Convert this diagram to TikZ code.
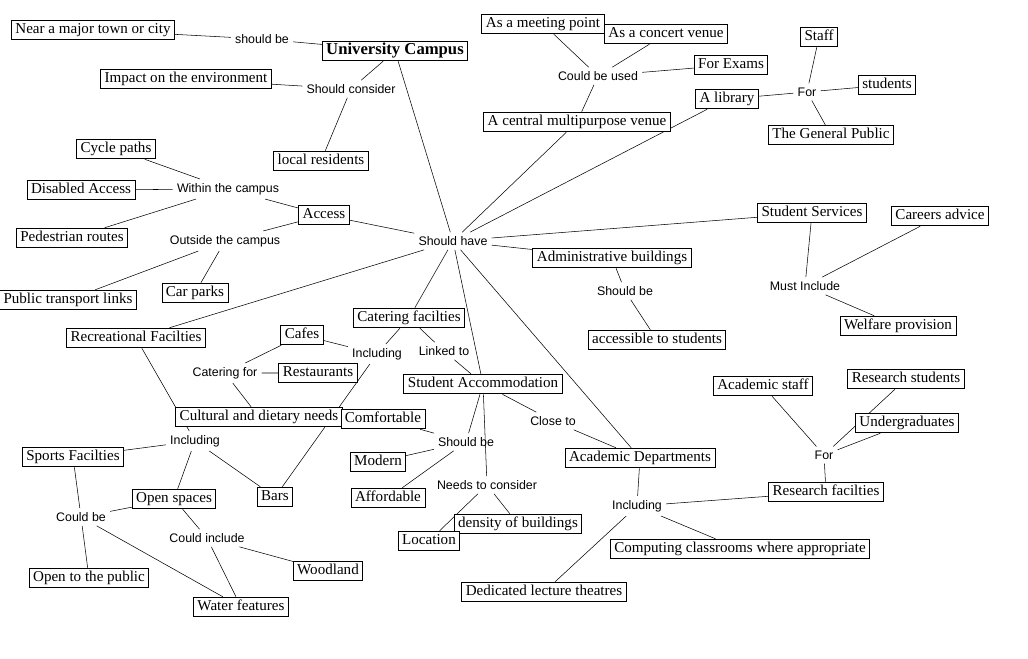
\documentclass[tikz,border=0pt]{standalone}
\usepackage{fontspec}
\setmainfont{Liberation Serif}
\newfontfamily\lblfont{Liberation Sans}
\usetikzlibrary{backgrounds}

\begin{document}
\begin{tikzpicture}[x=0.75pt,y=-0.75pt,
  box/.style={draw,fill=white,line width=0.6pt,inner xsep=3pt,inner ysep=2.6pt,
    text height=0.72em,text depth=0.24em,font=\fontsize{11.3}{13}\selectfont},
  lbl/.style={inner sep=3pt,font=\lblfont\fontsize{9.3}{10}\selectfont},
  link/.style={line width=0.6pt}]
\useasboundingbox (0,0) rectangle (1028,658);
% concepts
\node[box,font=\bfseries\fontsize{12.5}{14}\selectfont] (campus) at (395,51) {University Campus};
\node[box] (near) at (93,30) {Near a major town or city};
\node[box] (impact) at (186,79) {Impact on the environment};
\node[box] (residents) at (321,161) {local residents};
\node[box] (meeting) at (543,24) {As a meeting point};
\node[box] (concert) at (666,34) {As a concert venue};
\node[box] (exams) at (731,65) {For Exams};
\node[box] (venue) at (577,122) {A central multipurpose venue};
\node[box] (library) at (727,99) {A library};
\node[box] (staff) at (819,37) {Staff};
\node[box] (students) at (887,85) {students};
\node[box] (public) at (831,135) {The General Public};
\node[box] (cycle) at (116,149) {Cycle paths};
\node[box] (disabled) at (81,190) {Disabled Access};
\node[box] (pedestrian) at (72,238) {Pedestrian routes};
\node[box] (access) at (324,215) {Access};
\node[box] (transport) at (68,300) {Public transport links};
\node[box] (carparks) at (195,293) {Car parks};
\node[box] (services) at (812,213) {Student Services};
\node[box] (careers) at (940,216) {Careers advice};
\node[box] (admin) at (612,258) {Administrative buildings};
\node[box] (accessible) at (657,340) {accessible to students};
\node[box] (welfare) at (898,326) {Welfare provision};
\node[box] (recreation) at (136,338) {Recreational Facilties};
\node[box] (cafes) at (302,335) {Cafes};
\node[box] (catering) at (409,318) {Catering facilties};
\node[box] (restaurants) at (318,373) {Restaurants};
\node[box] (culture) at (259,417) {Cultural and dietary needs};
\node[box] (comfortable) at (383,419) {Comfortable};
\node[box] (accommodation) at (483,384) {Student Accommodation};
\node[box] (sports) at (73,457) {Sports Facilties};
\node[box] (modern) at (378,462) {Modern};
\node[box] (openspaces) at (174,499) {Open spaces};
\node[box] (bars) at (275,497) {Bars};
\node[box] (affordable) at (388,498) {Affordable};
\node[box] (density) at (518,524) {density of buildings};
\node[box] (location) at (429,541) {Location};   % over density
\node[box] (openpublic) at (89,578) {Open to the public};
\node[box] (woodland) at (328,571) {Woodland};
\node[box] (water) at (241,607) {Water features};
\node[box] (academic) at (640,458) {Academic Departments};
\node[box] (computing) at (740,549) {Computing classrooms where appropriate};
\node[box] (lectures) at (544,592) {Dedicated lecture theatres};
\node[box] (acstaff) at (763,386) {Academic staff};
\node[box] (resstudents) at (906,379) {Research students};
\node[box] (undergrads) at (907,423) {Undergraduates};
\node[box] (resfac) at (826,492) {Research facilties};
% linking words
\node[lbl] (shbe) at (262,39) {should be};
\node[lbl] (shcons) at (351,89) {Should consider};
\node[lbl] (usedas) at (598,76) {Could be used};
\node[lbl] (forlib) at (807,92) {For};
\node[lbl] (within) at (228,189) {Within the campus};
\node[lbl] (outside) at (225,241) {Outside the campus};
\node[lbl] (shhave) at (453,241) {Should have};
\node[lbl] (mustinc) at (805,286) {Must Include};
\node[lbl] (shbeadm) at (625,291) {Should be};
\node[lbl] (inccat) at (377,354) {Including};
\node[lbl] (linked) at (444,351) {Linked to};
\node[lbl] (catfor) at (225,373) {Catering for};
\node[lbl] (increc) at (195,441) {Including};
\node[lbl] (shbeacc) at (466,442) {Should be};
\node[lbl] (closeto) at (553,421) {Close to};
\node[lbl] (couldbe) at (81,517) {Could be};
\node[lbl] (couldinc) at (207,538) {Could include};
\node[lbl] (needs) at (487,485) {Needs to consider};
\node[lbl] (incacad) at (637,506) {Including};
\node[lbl] (forres) at (824,455) {For};
% links, behind the boxes
\begin{scope}[on background layer,link]
\draw (near) -- (shbe) (shbe) -- (campus);
\draw (campus) -- (shcons) (shcons) -- (impact) (shcons) -- (residents);
\draw (campus) -- (shhave);
\draw (shhave) -- (venue) (shhave) -- (library) (shhave) -- (services)
      (shhave) -- (admin) (shhave) -- (access) (shhave) -- (recreation)
      (shhave) -- (catering) (shhave) -- (accommodation) (shhave) -- (academic);
\draw (venue) -- (usedas) (usedas) -- (meeting) (usedas) -- (concert) (usedas) -- (exams);
\draw (library) -- (forlib) (forlib) -- (staff) (forlib) -- (students) (forlib) -- (public);
\draw (access) -- (within) (within) -- (cycle) (within) -- (disabled) (within) -- (pedestrian);
\draw (access) -- (outside) (outside) -- (transport) (outside) -- (carparks);
\draw (services) -- (mustinc) (mustinc) -- (careers) (mustinc) -- (welfare);
\draw (admin) -- (shbeadm) (shbeadm) -- (accessible);
\draw (catering) -- (inccat) (inccat) -- (cafes) (inccat) -- (bars);
\draw (catering) -- (linked) (linked) -- (accommodation);
\draw (cafes) -- (catfor) (catfor) -- (restaurants) (catfor) -- (culture);
\draw (recreation) -- (increc) (increc) -- (sports) (increc) -- (openspaces) (increc) -- (bars);
\draw (sports) -- (couldbe) (couldbe) -- (openspaces) (couldbe) -- (openpublic) (couldbe) -- (water);
\draw (openspaces) -- (couldinc) (couldinc) -- (woodland) (couldinc) -- (water);
\draw (accommodation) -- (shbeacc) (shbeacc) -- (comfortable) (shbeacc) -- (modern) (shbeacc) -- (affordable);
\draw (accommodation) -- (needs) (needs) -- (location) (needs) -- (density);
\draw (accommodation) -- (closeto) (closeto) -- (academic);
\draw (academic) -- (incacad) (incacad) -- (resfac) (incacad) -- (computing) (incacad) -- (lectures);
\draw (resfac) -- (forres) (forres) -- (acstaff) (forres) -- (resstudents) (forres) -- (undergrads);
\end{scope}
\end{tikzpicture}
\end{document}
